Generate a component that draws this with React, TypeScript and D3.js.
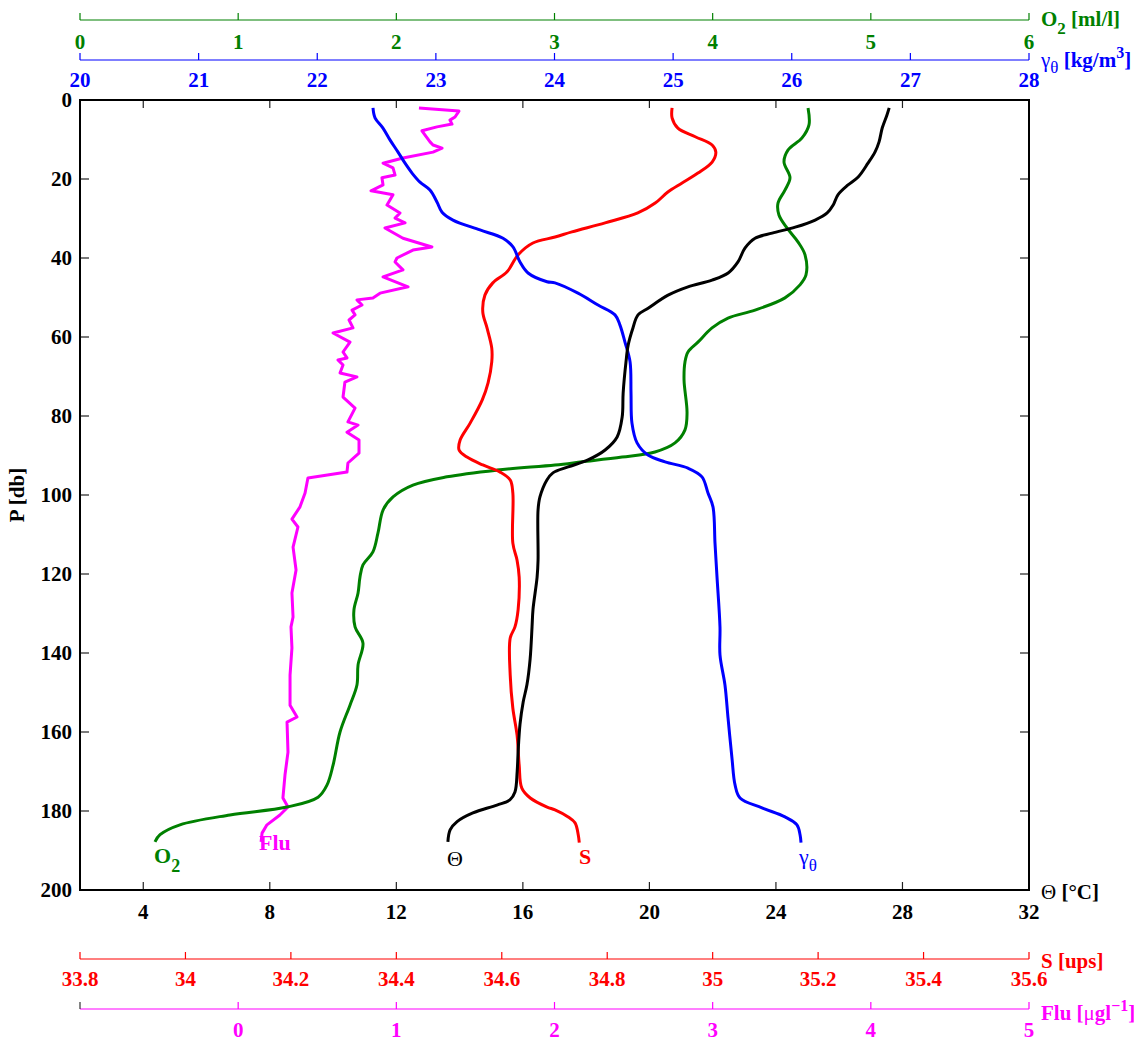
import React from "react";
import * as d3 from "d3";

// ---------- data: [pressure (db), value] ----------
const thetaProfile: [number, number][] = [
  [2, 27.58], [3.8, 27.51], [7.1, 27.36], [10.6, 27.26], [13.2, 27.13], [16, 26.91],
  [19.5, 26.6], [21.5, 26.28], [24, 25.96], [26.6, 25.81], [28.6, 25.62], [30.4, 25.24],
  [32.2, 24.61], [33.7, 23.88], [35, 23.34], [37.5, 23.02], [41, 22.8], [43.8, 22.49],
  [45.6, 21.98], [47.3, 21.22], [49.4, 20.59], [52.7, 19.96], [54.4, 19.64], [57.7, 19.48],
  [62, 19.33], [66.3, 19.26], [74.2, 19.17], [80.2, 19.14], [85.3, 18.98], [88.6, 18.6],
  [91.1, 18.06], [92.9, 17.43], [94.4, 16.95], [96.2, 16.76], [100.5, 16.54], [103.8, 16.48],
  [116.5, 16.48], [120.8, 16.45], [129, 16.32], [133.4, 16.29], [141.5, 16.23], [148, 16.13],
  [152.4, 16.01], [158, 15.91], [165, 15.85], [170, 15.82], [175.2, 15.75], [177.2, 15.59],
  [178.5, 15.18], [180.5, 14.42], [182.7, 13.92], [184.8, 13.7], [187.8, 13.63],
];

const salinityProfile: [number, number][] = [
  [2, 34.923], [4.5, 34.923], [7.1, 34.934], [9.3, 34.967], [11.4, 34.999], [13.2, 35.006],
  [15.7, 34.999], [18.5, 34.972], [21, 34.942], [23.3, 34.915], [26.1, 34.891], [28.6, 34.858],
  [31.1, 34.796], [33.4, 34.733], [34.7, 34.701], [36.2, 34.659], [39.2, 34.631], [43.5, 34.61],
  [46.3, 34.583], [49.4, 34.568], [53.7, 34.564], [57.7, 34.572], [62.8, 34.581], [66.3, 34.581],
  [71.6, 34.574], [75.9, 34.563], [81.8, 34.54], [86.1, 34.521], [88.6, 34.519], [90.4, 34.534],
  [92.4, 34.564], [94.2, 34.597], [96.2, 34.616], [99.5, 34.621], [112.2, 34.621], [116.5, 34.629],
  [120.8, 34.633], [129, 34.631], [133.4, 34.625], [136.2, 34.616], [145.6, 34.616], [154, 34.621],
  [160.8, 34.629], [168.4, 34.633], [174.2, 34.638], [176.7, 34.654], [179, 34.686], [179.7, 34.701],
  [181.5, 34.726], [183, 34.739], [186, 34.745], [188, 34.747],
];

const gammaProfile: [number, number][] = [
  [2, 22.47], [4.5, 22.487], [7.1, 22.554], [10.1, 22.613], [13.2, 22.681], [16, 22.74],
  [18.5, 22.799], [20.8, 22.866], [22.8, 22.95], [25.8, 23.009], [28.4, 23.052], [30.4, 23.144],
  [32.9, 23.372], [35, 23.566], [37.2, 23.65], [41, 23.709], [43.8, 23.777], [46, 23.937],
  [46.3, 24.004], [48.9, 24.198], [51.9, 24.367], [54.4, 24.51], [57, 24.552], [61.3, 24.594],
  [66.3, 24.637], [74.2, 24.645], [81.8, 24.653], [86.8, 24.696], [89.9, 24.788], [91.6, 24.932],
  [93.2, 25.125], [95.4, 25.243], [99.5, 25.294], [103, 25.336], [112.2, 25.353], [120.8, 25.37],
  [133.4, 25.395], [140.5, 25.395], [148.1, 25.437], [156.5, 25.463], [166.6, 25.496], [173.4, 25.522],
  [176.7, 25.564], [179.2, 25.749], [181.5, 25.943], [183.5, 26.044], [186, 26.07], [188, 26.078],
];

const oxygenProfile: [number, number][] = [
  [2, 4.603], [6.3, 4.609], [9.6, 4.565], [12.7, 4.476], [15.7, 4.451], [19.7, 4.489],
  [22.8, 4.457], [26.1, 4.413], [29.1, 4.419], [32.4, 4.47], [35.9, 4.539], [39.2, 4.584],
  [44.3, 4.59], [46.8, 4.552], [50.1, 4.457], [53.2, 4.268], [55.2, 4.097], [57.7, 3.996],
  [61.3, 3.907], [63.8, 3.844], [66.3, 3.825], [70.9, 3.819], [79.2, 3.838], [83.5, 3.825],
  [86.8, 3.762], [89.1, 3.635], [90.4, 3.427], [91.6, 3.174], [92.4, 3.003], [93.7, 2.636],
  [95.4, 2.32], [97.5, 2.105], [100.5, 1.979], [103.8, 1.916], [109.6, 1.884], [114.4, 1.852],
  [117.7, 1.789], [120.8, 1.77], [124.8, 1.758], [129.1, 1.732], [133.4, 1.739], [137.5, 1.789],
  [143, 1.758], [148.1, 1.751], [153.2, 1.707], [160, 1.644], [168.4, 1.6], [173.4, 1.562],
  [176.5, 1.505], [179, 1.309], [181, 0.948], [183.5, 0.632], [186, 0.506], [187.8, 0.474],
];

const fluProfile: [number, number][] = [
  [2, 1.143], [2.8, 1.396], [4.3, 1.371], [5.1, 1.339], [6.1, 1.352], [6.8, 1.257], [7.8, 1.162],
  [10.6, 1.213], [11.4, 1.232], [12.2, 1.289], [13.2, 1.232], [14.7, 1.042], [16, 0.916],
  [17.2, 0.979], [19, 0.992], [19.7, 0.909], [21.5, 0.916], [23, 0.84], [24, 0.979], [26.6, 0.941],
  [28.6, 1.023], [29.9, 0.992], [31.1, 1.055], [32.4, 0.928], [35, 1.042], [37.2, 1.225],
  [38, 1.105], [40, 1.004], [41, 0.992], [43, 1.042], [44.8, 0.916], [47.3, 1.074], [48.9, 0.897],
  [50.1, 0.852], [50.6, 0.751], [51.9, 0.783], [53.2, 0.72], [54.4, 0.739], [55.7, 0.701],
  [57.7, 0.726], [59, 0.6], [61.3, 0.707], [63.8, 0.663], [65.3, 0.688], [65.8, 0.631],
  [67.1, 0.663], [69.1, 0.644], [70.1, 0.751], [71.4, 0.675], [75.2, 0.663], [78, 0.739],
  [81.5, 0.694], [82.3, 0.758], [84.1, 0.688], [86.1, 0.764], [89.4, 0.764], [91.9, 0.694],
  [94.2, 0.688], [95.7, 0.441], [99.5, 0.423], [103, 0.391], [106.1, 0.34], [108.1, 0.378],
  [113.2, 0.347], [119, 0.366], [124.8, 0.34], [130.9, 0.347], [133.4, 0.334], [138.7, 0.34],
  [145.6, 0.328], [153.2, 0.328], [156.2, 0.372], [157.5, 0.309], [165.1, 0.315], [170.9, 0.296],
  [176.7, 0.283], [179, 0.315], [181, 0.264], [183.5, 0.182], [185.6, 0.151], [187.8, 0.145],
];

// ---------- axis ticks ----------
const pressureTicks = [0, 20, 40, 60, 80, 100, 120, 140, 160, 180, 200];
const thetaTicks = [2, 4, 8, 12, 16, 20, 24, 28, 32];
const thetaLabels = [4, 8, 12, 16, 20, 24, 28, 32];
const oxygenTicks = [0, 1, 2, 3, 4, 5, 6];
const gammaTicks = [20, 21, 22, 23, 24, 25, 26, 27, 28];
const salinityTicks = [33.8, 34, 34.2, 34.4, 34.6, 34.8, 35, 35.2, 35.4, 35.6];
const fluTicks = [0, 1, 2, 3, 4, 5];

const FONT = "'Liberation Serif', 'Times New Roman', serif";
const GREEN = "#008000";
const BLUE = "#0000ff";
const RED = "#ff0000";
const MAGENTA = "#ff00ff";
const FS = 21;

const L = 80, R = 1029, T = 100, B = 890;

const yP = d3.scaleLinear().domain([0, 200]).range([T, B]);
const xT = d3.scaleLinear().domain([2, 32]).range([L, R]);
const xS = d3.scaleLinear().domain([33.8, 35.6]).range([L, R]);
const xO = d3.scaleLinear().domain([0, 6]).range([L, R]);
const xG = d3.scaleLinear().domain([20, 28]).range([L, R]);
const xF = d3.scaleLinear().domain([-1, 5]).range([L, R]);

function smoothPath(data: [number, number][], xs: d3.ScaleLinear<number, number>) {
  return d3
    .line<[number, number]>()
    .x((d) => xs(d[1]))
    .y((d) => yP(d[0]))
    .curve(d3.curveCatmullRom.alpha(0.5))(data) as string;
}
function linearPath(data: [number, number][], xs: d3.ScaleLinear<number, number>) {
  return d3
    .line<[number, number]>()
    .x((d) => xs(d[1]))
    .y((d) => yP(d[0]))(data) as string;
}

function ExtraAxis({
  scale, ticks, y, color, labelFmt, labelDy, extraDarkTick,
}: {
  scale: d3.ScaleLinear<number, number>;
  ticks: number[];
  y: number;
  color: string;
  labelFmt: (v: number) => string;
  labelDy: number;
  extraDarkTick?: number;
}) {
  return (
    <g>
      <line x1={L} x2={R} y1={y} y2={y} stroke={color} strokeWidth={1.2} />
      {extraDarkTick !== undefined && (
        <line x1={scale(extraDarkTick)} x2={scale(extraDarkTick)} y1={y} y2={y - 7} stroke="#333" strokeWidth={1.2} />
      )}
      {ticks.map((t) => (
        <g key={t}>
          <line x1={scale(t)} x2={scale(t)} y1={y} y2={y - 7} stroke={color} strokeWidth={1.2} />
          <text
            x={scale(t)}
            y={y + labelDy}
            textAnchor="middle"
            fill={color}
            fontWeight="bold"
            fontSize={FS}
            fontFamily={FONT}
          >
            {labelFmt(t)}
          </text>
        </g>
      ))}
    </g>
  );
}

export default function App() {
  const fmtS = (v: number) => String(Math.round(v * 10) / 10);
  return (
    <svg
      width={1143}
      height={1042}
      style={{ position: "absolute", left: 0, top: 0, background: "#fff" }}
      fontFamily={FONT}
    >
      <rect x={0} y={0} width={1143} height={1042} fill="#fff" />

      {/* top extra axes */}
      <ExtraAxis scale={xO} ticks={oxygenTicks} y={20} color={GREEN} labelFmt={(v) => String(v)} labelDy={29} />
      <ExtraAxis scale={xG} ticks={gammaTicks} y={60} color={BLUE} labelFmt={(v) => String(v)} labelDy={27} />

      <text x={1041} y={26} fill={GREEN} fontWeight="bold" fontSize={FS}>
        O<tspan fontSize={17} dy={8}>2</tspan>
        <tspan dy={-8}> [ml/l]</tspan>
      </text>
      <text x={1041} y={67} fill={BLUE} fontWeight="bold" fontSize={FS}>
        <tspan fontWeight="normal">γ</tspan>
        <tspan fontWeight="normal" fontSize={17} dy={6}>θ</tspan>
        <tspan dy={-6}> [kg/m</tspan>
        <tspan fontSize={16} dy={-9}>3</tspan>
        <tspan dy={9}>]</tspan>
      </text>

      {/* bottom extra axes */}
      <ExtraAxis scale={xS} ticks={salinityTicks} y={959} color={RED} labelFmt={fmtS} labelDy={27} />
      <ExtraAxis scale={xF} ticks={fluTicks} y={1009} color={MAGENTA} labelFmt={(v) => String(v)} labelDy={28} extraDarkTick={-1} />

      <text x={1041} y={968} fill={RED} fontWeight="bold" fontSize={FS}>S [ups]</text>
      <text x={1041} y={1020} fill={MAGENTA} fontWeight="bold" fontSize={FS}>
        Flu [<tspan fontWeight="normal">μ</tspan>gl<tspan fontSize={16} dy={-9}>−1</tspan>
        <tspan dy={9}>]</tspan>
      </text>

      {/* main frame ticks */}
      {thetaTicks.map((t) => (
        <g key={"tt" + t}>
          <line x1={xT(t)} x2={xT(t)} y1={B} y2={B - 8} stroke="#222" strokeWidth={1.2} />
          <line x1={xT(t)} x2={xT(t)} y1={T} y2={T + 8} stroke="#222" strokeWidth={1.2} />
        </g>
      ))}
      {thetaLabels.map((t) => (
        <text key={"tl" + t} x={xT(t)} y={919} textAnchor="middle" fontWeight="bold" fontSize={FS} fill="#000">
          {t}
        </text>
      ))}
      {pressureTicks.map((p) => (
        <g key={"pt" + p}>
          <line x1={L} x2={L + 9} y1={yP(p)} y2={yP(p)} stroke="#222" strokeWidth={1.2} />
          <line x1={R} x2={R - 9} y1={yP(p)} y2={yP(p)} stroke="#222" strokeWidth={1.2} />
          <text x={L - 8} y={yP(p) + 7} textAnchor="end" fontWeight="bold" fontSize={FS} fill="#000">
            {p}
          </text>
        </g>
      ))}
      <rect x={L} y={T} width={R - L} height={B - T} fill="none" stroke="#000" strokeWidth={2} />

      <text
        transform={`translate(24, 495) rotate(-90)`}
        textAnchor="middle"
        fontWeight="bold"
        fontSize={FS}
        fill="#000"
      >
        P [db]
      </text>
      <text x={1041} y={899} fontSize={FS} fill="#000">
        Θ <tspan fontWeight="bold">[°C]</tspan>
      </text>

      {/* profiles */}
      <path d={linearPath(fluProfile, xF)} fill="none" stroke={MAGENTA} strokeWidth={3} strokeLinejoin="round" />
      <path d={smoothPath(oxygenProfile, xO)} fill="none" stroke={GREEN} strokeWidth={3} />
      <path d={smoothPath(salinityProfile, xS)} fill="none" stroke={RED} strokeWidth={3} />
      <path d={smoothPath(gammaProfile, xG)} fill="none" stroke={BLUE} strokeWidth={3} />
      <path d={smoothPath(thetaProfile, xT)} fill="none" stroke="#000" strokeWidth={3} />

      {/* curve labels */}
      <text x={154} y={863} fill={GREEN} fontWeight="bold" fontSize={22}>
        O<tspan fontSize={18} dy={9}>2</tspan>
      </text>
      <text x={259} y={850} fill={MAGENTA} fontWeight="bold" fontSize={22}>Flu</text>
      <text x={447} y={866} fill="#000" fontSize={22}>Θ</text>
      <text x={579} y={864} fill={RED} fontWeight="bold" fontSize={22}>S</text>
      <text x={799} y={864} fill={BLUE} fontSize={22}>
        γ<tspan fontSize={17} dy={7}>θ</tspan>
      </text>
    </svg>
  );
}
